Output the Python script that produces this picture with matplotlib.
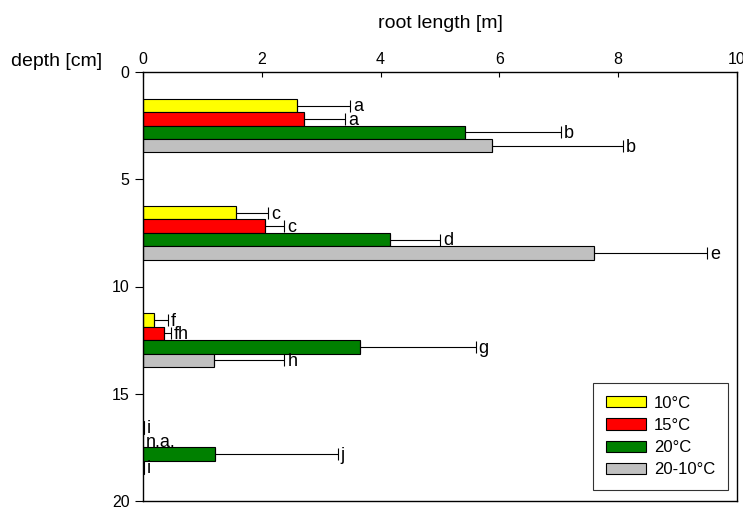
import numpy as np
import matplotlib
matplotlib.use("Agg")
import matplotlib.pyplot as plt
from matplotlib.patches import Patch

plt.rcParams['font.family'] = ['Liberation Sans', 'DejaVu Sans']

# depth layers (cm) and treatments
depth_centers = [2.5, 7.5, 12.5, 17.5]
treatments = ['10°C', '15°C', '20°C', '20-10°C']
colors = ['#FFFF00', '#FF0000', '#008000', '#C0C0C0']

# mean root length [m] per layer, and upper error
len_10 = [2.60, 1.56, 0.19, 0.02]
err_10 = [0.89, 0.55, 0.23, 0.0]
len_15 = [2.71, 2.06, 0.36, np.nan]
err_15 = [0.69, 0.32, 0.11, np.nan]
len_20 = [5.42, 4.15, 3.65, 1.22]
err_20 = [1.62, 0.85, 1.95, 2.06]
len_2010 = [5.88, 7.60, 1.20, 0.02]
err_2010 = [2.20, 1.90, 1.18, 0.0]

# significance letters
let_10 = ['a', 'c', 'f', 'i']
let_15 = ['a', 'c', 'fh', 'n.a.']
let_20 = ['b', 'd', 'g', 'j']
let_2010 = ['b', 'e', 'h', 'i']

values = [len_10, len_15, len_20, len_2010]
errors = [err_10, err_15, err_20, err_2010]
letters = [let_10, let_15, let_20, let_2010]

fig = plt.figure(figsize=(7.43, 5.09), dpi=100)
ax = fig.add_axes([143 / 743, 8 / 509, 594 / 743, 429 / 509])

bar_h = 0.625
for i in range(4):
    offs = (i - 1.5) * bar_h
    ys = np.array(depth_centers) + offs
    vals = np.array(values[i], dtype=float)
    errs = np.array(errors[i], dtype=float)
    ax.barh(ys, np.nan_to_num(vals), height=bar_h, color=colors[i],
            edgecolor='black', linewidth=0.8, label=treatments[i], zorder=2)
    for y, v, e in zip(ys, vals, errs):
        if not np.isnan(v) and e > 0:
            ax.errorbar(v, y, xerr=[[0], [e]], fmt='none', ecolor='black',
                        elinewidth=0.8, capsize=4.3, capthick=0.8, zorder=3)
    for y, v, e, t in zip(ys, vals, errs, letters[i]):
        x_end = 0.0 if np.isnan(v) else v + e
        ax.text(x_end + 0.05, y + bar_h / 2 - 0.04, t, ha='left', va='baseline',
                fontsize=13, zorder=4)

ax.set_xlim(0, 10)
ax.set_ylim(20, 0)
ax.set_xticks([0, 2, 4, 6, 8, 10])
ax.set_yticks([0, 5, 10, 15, 20])
ax.xaxis.tick_top()
ax.tick_params(axis='x', direction='in', length=3.6, width=0.8, pad=3.5,
               labelsize=11.5, top=True, bottom=False)
ax.tick_params(axis='y', direction='out', length=5.8, width=0.8, pad=4,
               labelsize=11.5, right=False)
for s in ax.spines.values():
    s.set_linewidth(1.0)

fig.text(440.5 / 743, 1 - 28.5 / 509, 'root length [m]', ha='center',
         va='baseline', fontsize=14)
fig.text(102 / 743, 1 - 66.5 / 509, 'depth [cm]', ha='right',
         va='baseline', fontsize=14)

handles = [Patch(facecolor=c, edgecolor='black', linewidth=0.8) for c in colors]
leg = ax.legend(handles, treatments, loc='upper left',
                bbox_to_anchor=((593 - 143) / 594, 1 - (383 - 72) / 429),
                borderaxespad=0, fontsize=12, frameon=True, fancybox=False,
                edgecolor='black', handlelength=2.4, handleheight=0.66,
                handletextpad=0.5, labelspacing=0.44, borderpad=0.75)
leg.get_frame().set_linewidth(0.8)

fig.savefig('out.png', dpi=100)
